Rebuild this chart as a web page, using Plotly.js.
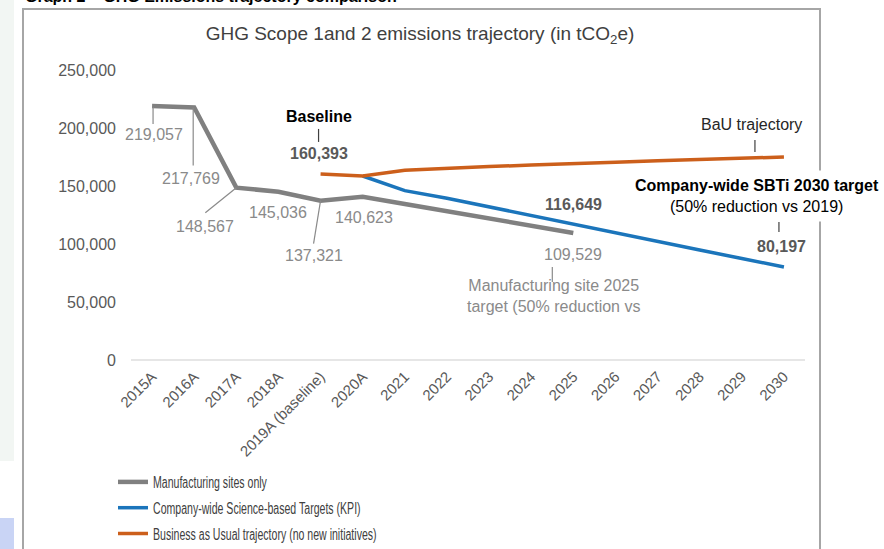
<!DOCTYPE html>
<html>
<head>
<meta charset="utf-8">
<script src="https://cdn.plot.ly/plotly-3.0.1.min.js"></script>
<style>
  html, body { margin: 0; padding: 0; width: 884px; height: 549px; overflow: hidden; background: #ffffff; }
  #strip1 { position: absolute; left: 0; top: 0; width: 14px; height: 461px; background: #f2f6f3; }
  #strip2 { position: absolute; left: 0; top: 518px; width: 14px; height: 31px; background: #c9d4f5; }
  #heading { position: absolute; left: 25px; top: -11px; font: bold 16px "Liberation Sans", Arial, sans-serif; line-height: 16px; color: #000; white-space: nowrap; }
  #frame { position: absolute; left: 22px; top: 8px; width: 795px; height: 600px; border: 2px solid #a6a6a6; border-bottom: none; }
  #chart { position: absolute; left: 0; top: 0; width: 884px; height: 549px; }
</style>
</head>
<body>
<div id="strip1"></div>
<div id="strip2"></div>
<div id="heading">Graph 2 – GHG Emissions trajectory comparison</div>
<div id="frame"></div>
<div id="chart"></div>
<script>
// ---- data ----
const categories = ["2015A","2016A","2017A","2018A","2019A (baseline)","2020A","2021","2022","2023","2024","2025","2026","2027","2028","2029","2030"];

const manufacturingYears = ["2015A","2016A","2017A","2018A","2019A (baseline)","2020A","2021","2022","2023","2024","2025"];
const manufacturingValues = [219057, 217769, 148567, 145036, 137321, 140623, 134500, 128500, 122500, 116000, 109529];

const sbtiYears = ["2020A","2021","2022","2023","2024","2025","2026","2027","2028","2029","2030"];
const sbtiValues = [158600, 146000, 139500, 132000, 124500, 116649, 109500, 102000, 94800, 87500, 80197];

const bauYears = ["2019A (baseline)","2020A","2021","2022","2023","2024","2025","2026","2027","2028","2029","2030"];
const bauValues = [160393, 158600, 163500, 165500, 166800, 168000, 169000, 170500, 171800, 173000, 174000, 175000];

const seriesNames = [
  "Manufacturing sites only",
  "Company-wide Science-based Targets (KPI)",
  "Business as Usual trajectory (no new initiatives)"
];
const yTicks = [0, 50000, 100000, 150000, 200000, 250000];

// ---- styling ----
const FONT = '"Liberation Sans", Arial, sans-serif';
const GREY = '#808080', BLUE = '#1b75bb', ORANGE = '#cc5f1b';
const LABEL_GREY = '#8a8a8a', DARK = '#595959';

function fmt(v) { return v.toLocaleString('en-US'); }
function ci(label) { return categories.indexOf(label); }   // category index on the x axis

const traces = [
  { type: 'scatter', mode: 'lines', x: manufacturingYears, y: manufacturingValues, name: seriesNames[0],
    line: { color: GREY, width: 4.5 }, legendgroup: 'g1', hoverinfo: 'skip' },
  { type: 'scatter', mode: 'lines', x: sbtiYears, y: sbtiValues, name: seriesNames[1],
    line: { color: BLUE, width: 3.5 }, legendgroup: 'g2', hoverinfo: 'skip' },
  { type: 'scatter', mode: 'lines', x: bauYears, y: bauValues, name: seriesNames[2],
    line: { color: ORANGE, width: 3.5 }, legendgroup: 'g3', hoverinfo: 'skip' }
];

function lbl(x, y, text, dx, dy, color, bold, extra) {
  return Object.assign({
    xref: 'x', yref: 'y', x: ci(x), y: y, text: bold ? '<b>' + text + '</b>' : text,
    showarrow: false, xshift: dx, yshift: dy,
    font: { family: FONT, size: 16, color: color }
  }, extra || {});
}
function leader(x, y, x0, y0, x1, y1, color) {
  return { type: 'line', xref: 'x', yref: 'y', xsizemode: 'pixel', ysizemode: 'pixel',
    xanchor: ci(x), yanchor: y, x0: x0, x1: x1, y0: y0, y1: y1,
    line: { color: color, width: 1.2 } };
}

const m = manufacturingValues, mY = manufacturingYears;
const s = sbtiValues, sY = sbtiYears;
const b = bauValues, bY = bauYears;

const annotations = [
  lbl(mY[0], m[0], fmt(m[0]), 2, -29, LABEL_GREY),
  lbl(mY[1], m[1], fmt(m[1]), -3, -71, LABEL_GREY),
  lbl(mY[2], m[2], fmt(m[2]), -31, -39, LABEL_GREY),
  lbl(mY[3], m[3], fmt(m[3]), 0, -21, LABEL_GREY),
  lbl(mY[4], m[4], fmt(m[4]), -7, -55, LABEL_GREY),
  lbl(mY[5], m[5], fmt(m[5]), 1, -21, LABEL_GREY),
  lbl(mY[10], m[10], fmt(m[10]), 0, -22, LABEL_GREY),
  lbl(mY[10], m[10], 'Manufacturing site 2025<br>target (50% reduction vs', -20, -63, LABEL_GREY),
  lbl(bY[0], b[0], fmt(b[0]), -2, 20, DARK, true),
  lbl(bY[0], b[0], 'Baseline', -2, 57, '#000000', true),
  lbl(sY[5], s[5], fmt(s[5]), 0, 20, DARK, true),
  lbl(bY[11], b[11], 'BaU trajectory', -32, 33, '#262626'),
  lbl(sY[10], s[10], fmt(s[10]), -2, 20, DARK, true),
  lbl(sY[10], s[10], '<b>Company-wide SBTi 2030 target</b><br>(50% reduction vs 2019)', -27, 71, '#000000', false,
      { bgcolor: '#ffffff', borderpad: 6 })
];

const shapes = [
  leader(mY[0], m[0], 1, -1, 1, -18, LABEL_GREY),
  leader(mY[1], m[1], -1, 0, -1, -58, LABEL_GREY),
  leader(mY[2], m[2], 0, 0, -31, -25, LABEL_GREY),
  leader(mY[4], m[4], 0, 0, -7, -43, LABEL_GREY),
  leader(mY[10], m[10], -21, -34, -21, -49, LABEL_GREY),
  leader(bY[0], b[0], -2, 32, -2, 45, '#404040'),
  leader(bY[11], b[11], -29, 5, -29, 17, '#404040'),
  leader(sY[10], s[10], -5, 35, -5, 45, '#404040')
];

// plot area: x 131..805 (674 px), y 70..360 (290 px)
const layout = {
  width: 884, height: 549,
  margin: { l: 131, r: 79, t: 70, b: 189, autoexpand: false },
  paper_bgcolor: 'rgba(0,0,0,0)', plot_bgcolor: 'rgba(0,0,0,0)',
  title: { text: 'GHG Scope 1and 2 emissions trajectory (in tCO<sub>2</sub>e)',
    font: { family: FONT, size: 19, color: '#404040' },
    xref: 'container', yref: 'container', x: 420 / 884, y: 1 - 33 / 549, xanchor: 'center', yanchor: 'middle' },
  xaxis: { type: 'category', categoryorder: 'array', categoryarray: categories, range: [-0.5, 15.5],
    showgrid: false, showline: false, zeroline: false, ticks: '', tickangle: -45, automargin: false,
    ticklabelstandoff: 4, tickfont: { family: FONT, size: 15, color: DARK }, fixedrange: true },
  yaxis: { range: [0, 250000], tickvals: yTicks, tickformat: ',', showgrid: false, showline: false,
    zeroline: true, zerolinecolor: '#e6e6e6', zerolinewidth: 2, ticks: '', ticklabelstandoff: 14, automargin: false,
    tickfont: { family: FONT, size: 16, color: DARK }, fixedrange: true },
  showlegend: true,
  legend: { xref: 'paper', yref: 'paper', x: (113 - 131) / 674, y: (360 - 508) / 290,
    xanchor: 'left', yanchor: 'middle', bgcolor: 'rgba(0,0,0,0)', borderwidth: 0,
    traceorder: 'grouped', tracegroupgap: 2,
    font: { family: FONT, size: 16, color: '#404040' } },
  annotations: annotations,
  shapes: shapes
};

// legend text in the reference is set in a condensed face: compress glyphs horizontally
function condenseLegend() {
  document.querySelectorAll('#chart text.legendtext').forEach(function (t) {
    if (t.getAttribute('lengthAdjust')) return;
    var w = t.getComputedTextLength();
    if (w > 0) {
      t.setAttribute('textLength', (w * 0.66).toFixed(1));
      t.setAttribute('lengthAdjust', 'spacingAndGlyphs');
    }
  });
}

const gd = document.getElementById('chart');
Plotly.newPlot(gd, traces, layout, { displayModeBar: false, staticPlot: true }).then(function () {
  condenseLegend();
  gd.on('plotly_afterplot', condenseLegend);
});
</script>
</body>
</html>
